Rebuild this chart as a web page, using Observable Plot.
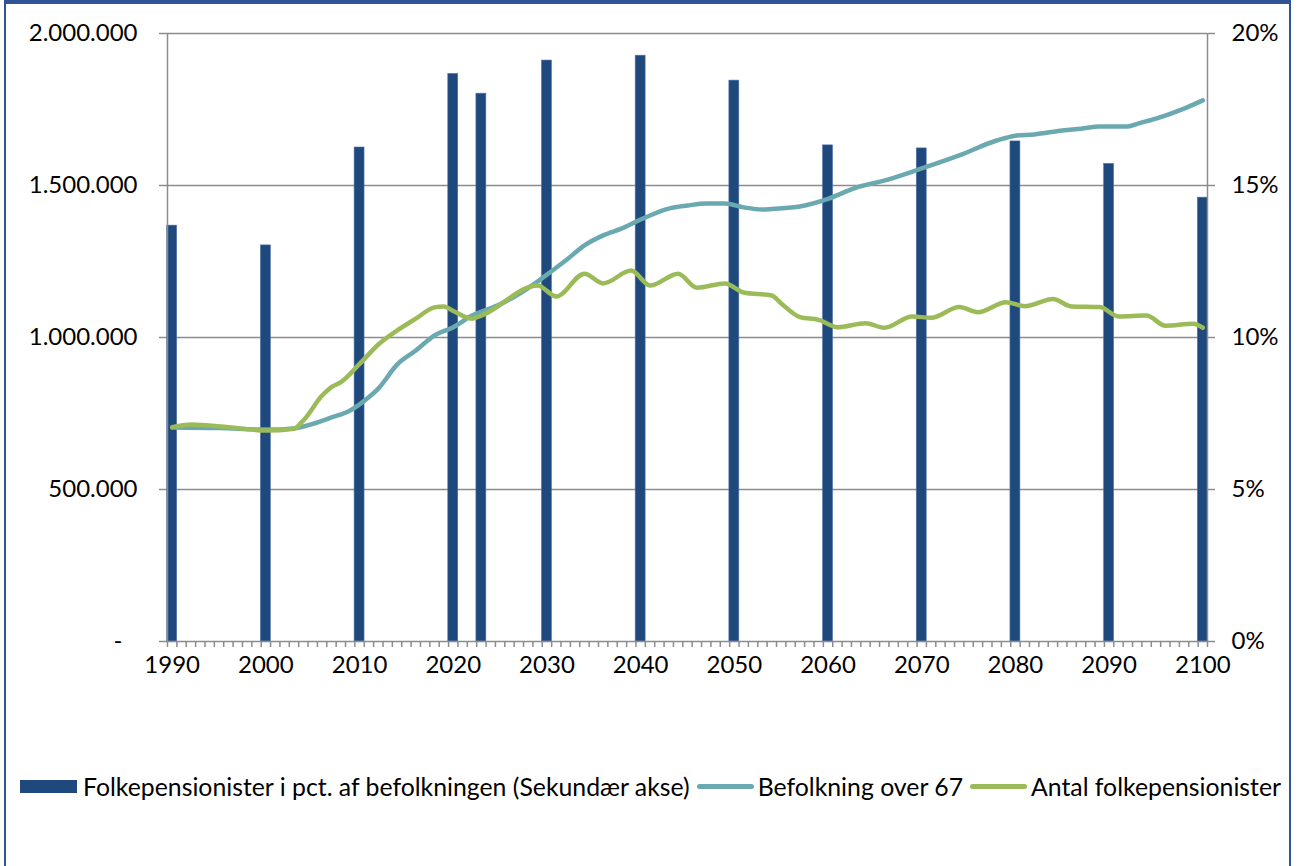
<!DOCTYPE html>
<html>
<head>
<meta charset="utf-8">
<script src="https://cdn.jsdelivr.net/npm/d3@7"></script>
<script src="https://cdn.jsdelivr.net/npm/@observablehq/plot@0.6"></script>
<style>
  html, body { margin: 0; padding: 0; background: #fff; }
  #frame {
    position: absolute; left: 4px; top: 0; width: 1287px; height: 866px;
    border-top: 4px solid #2F5597; border-left: 2px solid #2F5597; border-right: 2px solid #2F5597;
    box-sizing: border-box;
  }
  #chart { position: absolute; left: 0; top: 0; }
  #legend {
    position: absolute; left: 20px; top: 772px; display: flex; align-items: center;
    font-family: Lato, "Open Sans", sans-serif; font-size: 24.8px; color: #000; white-space: nowrap;
  }
  .sw-bar { width: 57px; height: 13px; background: #1F497D; margin-right: 6px; }
  .sw-line { width: 57px; height: 5px; border-radius: 3px; margin-left: 7px; margin-right: 4px; }
</style>
</head>
<body>
<div id="frame"></div>
<div id="chart"></div>
<div id="legend">
  <span class="sw-bar"></span><span>Folkepensionister i pct. af befolkningen (Sekundær akse)</span>
  <span class="sw-line" style="background:#6BA9B1"></span><span>Befolkning over 67</span>
  <span class="sw-line" style="background:#9BBB59"></span><span>Antal folkepensionister</span>
</div>
<script>
// Bars: Folkepensionister i pct. af befolkningen (secondary axis, %)
const barYears = [1990, 2000, 2010, 2020, 2023, 2030, 2040, 2050, 2060, 2070, 2080, 2090, 2100];
const barPct   = [13.68, 13.03, 16.25, 18.67, 18.02, 19.11, 19.27, 18.45, 16.32, 16.22, 16.45, 15.71, 14.6];

// Line: Befolkning over 67
const popYears = [1990, 1995, 2000, 2003, 2005, 2007, 2009, 2011, 2012, 2014, 2016, 2018, 2020, 2022, 2025, 2029, 2030, 2032, 2034, 2036, 2038, 2040, 2043, 2045, 2047, 2049, 2051, 2053, 2054, 2057, 2060, 2063, 2066, 2070, 2074, 2078, 2080, 2082, 2085, 2087, 2089, 2092, 2093, 2095, 2098, 2100];
const popVals  = [704000, 702000, 697000, 701000, 716000, 737000, 760000, 804000, 832000, 911000, 957000, 1007000, 1034000, 1072000, 1109000, 1184000, 1207000, 1253000, 1303000, 1336000, 1359000, 1388000, 1424000, 1434000, 1441000, 1441000, 1428000, 1421000, 1423000, 1431000, 1456000, 1493000, 1516000, 1556000, 1599000, 1648000, 1664000, 1668000, 1681000, 1687000, 1694000, 1694000, 1703000, 1720000, 1753000, 1780000];

// Line: Antal folkepensionister
const penYears = [1990, 1992, 1996, 2000, 2003, 2004, 2006, 2007, 2008, 2010, 2012, 2014, 2016, 2018, 2019, 2020, 2022, 2023, 2029, 2031, 2034, 2036, 2039, 2041, 2044, 2046, 2049, 2051, 2054, 2055, 2057, 2059, 2061, 2064, 2066, 2069, 2071, 2074, 2076, 2079, 2081, 2084, 2086, 2089, 2091, 2094, 2096, 2099, 2100];
const penVals  = [705000, 714000, 705000, 694000, 700000, 727000, 809000, 837000, 853000, 913000, 977000, 1023000, 1062000, 1099000, 1102000, 1087000, 1062000, 1072000, 1171000, 1135000, 1210000, 1178000, 1220000, 1171000, 1210000, 1164000, 1178000, 1148000, 1138000, 1112000, 1067000, 1058000, 1034000, 1047000, 1032000, 1069000, 1065000, 1100000, 1083000, 1116000, 1103000, 1127000, 1102000, 1100000, 1069000, 1072000, 1039000, 1045000, 1032000];

const leftTicks = [0, 500000, 1000000, 1500000, 2000000];
const rightTickLabels = ["0%", "5%", "10%", "15%", "20%"];
const xLabelYears = [1990, 2000, 2010, 2020, 2030, 2040, 2050, 2060, 2070, 2080, 2090, 2100];

const bars = barYears.map((year, i) => ({year, pct: barPct[i]}));
const pop = popYears.map((year, i) => ({year, value: popVals[i]}));
const pen = penYears.map((year, i) => ({year, value: penVals[i]}));

const W = 1299, H = 700;
const font = 'Lato, "Open Sans", sans-serif';
const grey = "#8C8C8C";
const catBounds = d3.range(1989.5, 2101, 1);
const fmtDK = d => d === 0 ? "-\u2002\u2009" : d3.format(",")(d).replace(/,/g, ".");

const chart = Plot.plot({
  width: W, height: H,
  marginLeft: 167, marginRight: W - 1207, marginTop: 33, marginBottom: H - 641,
  style: {fontFamily: font, fontSize: "24px", color: "#000", background: "transparent"},
  x: {domain: [1989.5, 2100.5]},
  y: {domain: [0, 2000000]},
  marks: [
    Plot.ruleY(leftTicks.slice(1), {stroke: grey, strokeWidth: 1.5}),
    Plot.axisY({ticks: leftTicks, tickFormat: fmtDK, tickSize: 8, tickPadding: 22, stroke: grey, strokeWidth: 1.5, label: null, fontSize: 24}),
    Plot.axisY({anchor: "right", ticks: leftTicks, tickFormat: (d, i) => rightTickLabels[i], tickSize: 7, tickPadding: 17, stroke: grey, strokeWidth: 1.5, label: null, fontSize: 24}),
    Plot.axisX({ticks: catBounds, tickFormat: () => "", tickSize: 6, stroke: grey, strokeWidth: 1.5, label: null}),
    Plot.axisX({ticks: xLabelYears, tickFormat: d => String(d), tickSize: 0, tickPadding: 14, label: null, fontSize: 24}),
    Plot.rectY(bars, {x1: d => d.year - 0.53, x2: d => d.year + 0.53, y1: 0, y2: d => d.pct * 100000, fill: "#1F497D", stroke: "#4F72A8", strokeWidth: 0.6}),
    Plot.ruleX([1989.5, 2100.5], {stroke: grey, strokeWidth: 1.5}),
    Plot.ruleY([0], {stroke: grey, strokeWidth: 1.5}),
    Plot.line(pop, {x: "year", y: "value", stroke: "#6BA9B1", strokeWidth: 4.5, curve: "monotone-x", strokeLinecap: "round", strokeLinejoin: "round"}),
    Plot.line(pen, {x: "year", y: "value", stroke: "#9BBB59", strokeWidth: 4.5, curve: "monotone-x", strokeLinecap: "round", strokeLinejoin: "round"})
  ]
});
document.getElementById("chart").appendChild(chart);
</script>
</body>
</html>
